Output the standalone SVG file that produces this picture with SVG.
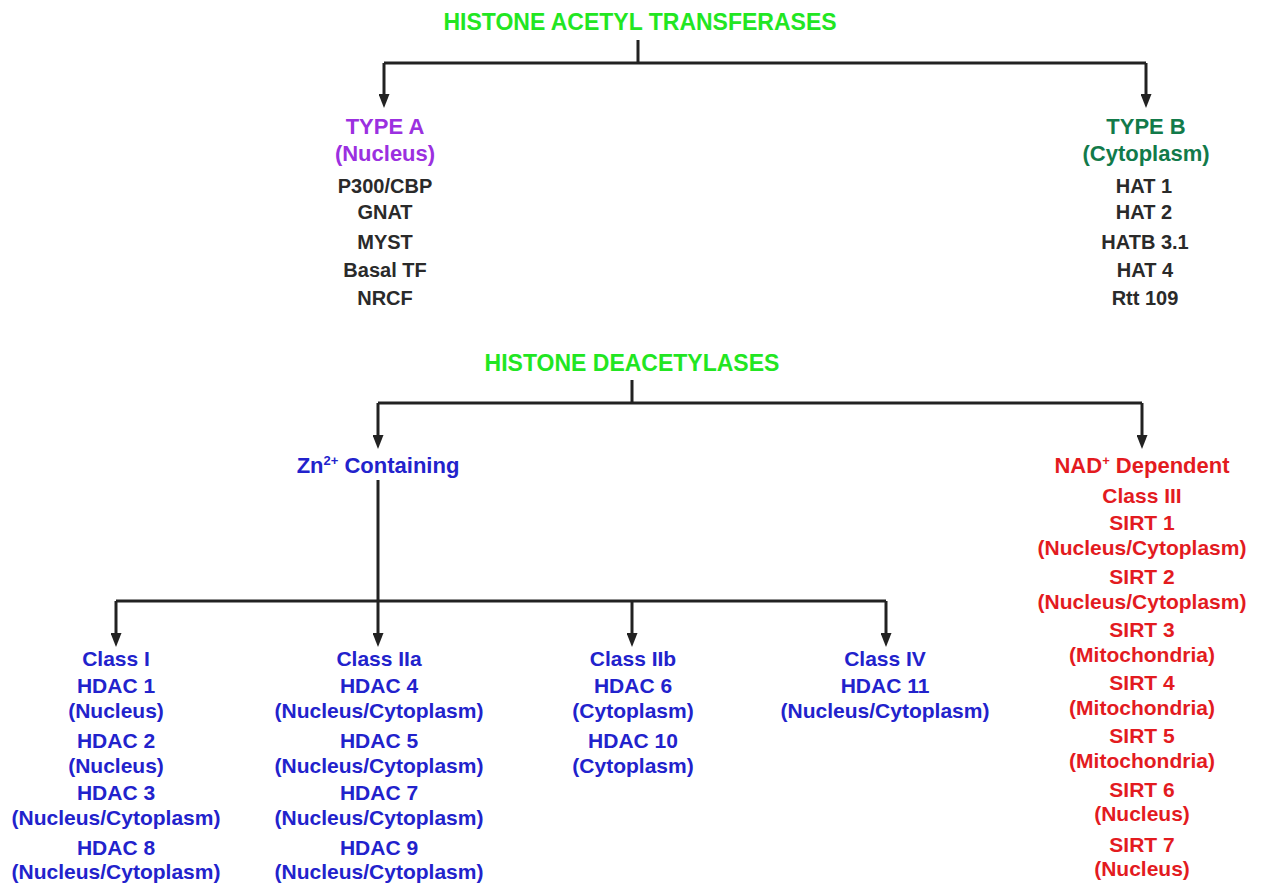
<svg xmlns="http://www.w3.org/2000/svg" width="1262" height="884" viewBox="0 0 1262 884">
<defs>
<marker id="ah" markerUnits="userSpaceOnUse" markerWidth="14" markerHeight="11" viewBox="0 0 14 11" refX="4" refY="5.5" orient="auto">
<path d="M0,0 L14,5.5 L0,11 z" fill="#222"/>
</marker>
<style>
text{font-family:"Liberation Sans",Arial,sans-serif;font-weight:bold;text-anchor:middle}
.title{font-size:23px;fill:#22e622}
.hdr{font-size:22px}
.blk{font-size:20px;fill:#2a2a2a}
.blue{font-size:21px;fill:#2222cc}
.red{font-size:21px;fill:#e31b1f}
.conn{fill:none;stroke:#222;stroke-width:3}
</style>
</defs>
<rect width="1262" height="884" fill="#fff"/>

<g id="connectors" class="conn">
<path d="M638,40 V63 M384,63 H1146"/>
<path d="M384,63 V98" marker-end="url(#ah)"/>
<path d="M1146,63 V98" marker-end="url(#ah)"/>
<path d="M632,380 V403 M378,403 H1142"/>
<path d="M378,403 V439" marker-end="url(#ah)"/>
<path d="M1142,403 V439" marker-end="url(#ah)"/>
<path d="M116,601 H886"/>
<path d="M378,480 V637" marker-end="url(#ah)"/>
<path d="M116,601 V637" marker-end="url(#ah)"/>
<path d="M632,601 V637" marker-end="url(#ah)"/>
<path d="M886,601 V637" marker-end="url(#ah)"/>
</g>

<g id="hat">
<text class="title" x="640" y="30">HISTONE ACETYL TRANSFERASES</text>
</g>

<g id="typeA">
<text class="hdr" x="385" y="134" fill="#9b30e0">TYPE A</text>
<text class="hdr" x="385" y="161" fill="#9b30e0">(Nucleus)</text>
<text class="blk" x="385" y="193">P300/CBP</text>
<text class="blk" x="385" y="219">GNAT</text>
<text class="blk" x="385" y="249">MYST</text>
<text class="blk" x="385" y="277">Basal TF</text>
<text class="blk" x="385" y="305">NRCF</text>
</g>

<g id="typeB">
<text class="hdr" x="1146" y="134" fill="#127a4a">TYPE B</text>
<text class="hdr" x="1146" y="161" fill="#127a4a">(Cytoplasm)</text>
<text class="blk" x="1144" y="193">HAT 1</text>
<text class="blk" x="1144" y="219">HAT 2</text>
<text class="blk" x="1145" y="249">HATB 3.1</text>
<text class="blk" x="1145" y="277">HAT 4</text>
<text class="blk" x="1145" y="305">Rtt 109</text>
</g>

<g id="hdac">
<text class="title" x="632" y="371">HISTONE DEACETYLASES</text>
</g>

<g id="zn">
<text class="hdr" x="378" y="473" fill="#2222cc">Zn<tspan font-size="13" dy="-8">2+</tspan><tspan dy="8"> Containing</tspan></text>
</g>

<g id="nad">
<text class="hdr" x="1142" y="473" fill="#e31b1f">NAD<tspan font-size="13" dy="-8">+</tspan><tspan dy="8"> Dependent</tspan></text>
<text class="red" x="1142" y="503">Class III</text>
<text class="red" x="1142" y="530">SIRT 1</text>
<text class="red" x="1142" y="555">(Nucleus/Cytoplasm)</text>
<text class="red" x="1142" y="584">SIRT 2</text>
<text class="red" x="1142" y="609">(Nucleus/Cytoplasm)</text>
<text class="red" x="1142" y="637">SIRT 3</text>
<text class="red" x="1142" y="662">(Mitochondria)</text>
<text class="red" x="1142" y="690">SIRT 4</text>
<text class="red" x="1142" y="715">(Mitochondria)</text>
<text class="red" x="1142" y="743">SIRT 5</text>
<text class="red" x="1142" y="768">(Mitochondria)</text>
<text class="red" x="1142" y="797">SIRT 6</text>
<text class="red" x="1142" y="821">(Nucleus)</text>
<text class="red" x="1142" y="852">SIRT 7</text>
<text class="red" x="1142" y="876">(Nucleus)</text>
</g>

<g id="class1">
<text class="blue" x="116" y="666">Class I</text>
<text class="blue" x="116" y="693">HDAC 1</text>
<text class="blue" x="116" y="718">(Nucleus)</text>
<text class="blue" x="116" y="748">HDAC 2</text>
<text class="blue" x="116" y="773">(Nucleus)</text>
<text class="blue" x="116" y="800">HDAC 3</text>
<text class="blue" x="116" y="825">(Nucleus/Cytoplasm)</text>
<text class="blue" x="116" y="855">HDAC 8</text>
<text class="blue" x="116" y="879">(Nucleus/Cytoplasm)</text>
</g>

<g id="class2a">
<text class="blue" x="379" y="666">Class IIa</text>
<text class="blue" x="379" y="693">HDAC 4</text>
<text class="blue" x="379" y="718">(Nucleus/Cytoplasm)</text>
<text class="blue" x="379" y="748">HDAC 5</text>
<text class="blue" x="379" y="773">(Nucleus/Cytoplasm)</text>
<text class="blue" x="379" y="800">HDAC 7</text>
<text class="blue" x="379" y="825">(Nucleus/Cytoplasm)</text>
<text class="blue" x="379" y="855">HDAC 9</text>
<text class="blue" x="379" y="879">(Nucleus/Cytoplasm)</text>
</g>

<g id="class2b">
<text class="blue" x="633" y="666">Class IIb</text>
<text class="blue" x="633" y="693">HDAC 6</text>
<text class="blue" x="633" y="718">(Cytoplasm)</text>
<text class="blue" x="633" y="748">HDAC 10</text>
<text class="blue" x="633" y="773">(Cytoplasm)</text>
</g>

<g id="class4">
<text class="blue" x="885" y="666">Class IV</text>
<text class="blue" x="885" y="693">HDAC 11</text>
<text class="blue" x="885" y="718">(Nucleus/Cytoplasm)</text>
</g>
</svg>
